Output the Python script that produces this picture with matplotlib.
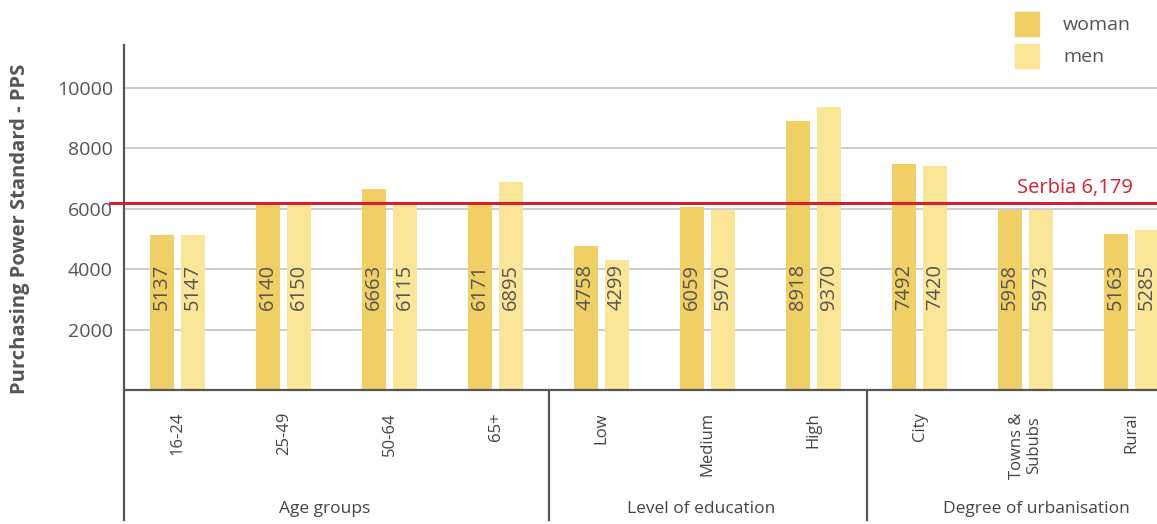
import matplotlib.pyplot as plt
import numpy as np
from matplotlib.patches import Rectangle
from matplotlib.lines import Line2D

plt.rcParams['font.family'] = ['Open Sans', 'DejaVu Sans']

categories = ['16-24', '25-49', '50-64', '65+', 'Low', 'Medium', 'High',
              'City', 'Towns &\nSububs', 'Rural']
woman = [5137, 6140, 6663, 6171, 4758, 6059, 8918, 7492, 5958, 5163]
men = [5147, 6150, 6115, 6895, 4299, 5970, 9370, 7420, 5973, 5285]
groups = ['Age groups', 'Level of education', 'Degree of urbanisation']
group_pos = [1.38, 4.94, 8.1]
serbia = 6179

c_woman = '#f0cf64'
c_men = '#fbe597'
grey = '#555555'
red = '#d42030'

W, H = 1157, 524
fig = plt.figure(figsize=(W / 100, H / 100), dpi=100)
ax = fig.add_axes([124 / W, (H - 390) / H, (W - 124) / W, (390 - 45) / H])

x = np.arange(len(categories))
bw = 0.226
ax.bar(x - 0.15, woman, bw, color=c_woman, zorder=2)
ax.bar(x + 0.143, men, bw, color=c_men, zorder=2)

for i in range(len(categories)):
    ax.text(x[i] - 0.15, 3400, str(woman[i]), rotation=90, ha='center', va='center',
            fontsize=14.5, color=grey, zorder=3)
    ax.text(x[i] + 0.143, 3400, str(men[i]), rotation=90, ha='center', va='center',
            fontsize=14.5, color=grey, zorder=3)

# national average
ax.plot([-0.64, 9.3], [serbia, serbia], color=red, lw=2.2, zorder=4, clip_on=False)
ax.text(9.015, serbia + 180, 'Serbia 6,179', color=red, fontsize=14.5, ha='right', va='bottom')

ax.set_xlim(-0.509, 9.24)
ax.set_ylim(0, 11420)
ax.set_yticks([2000, 4000, 6000, 8000, 10000])
ax.tick_params(axis='y', length=0, labelsize=14, colors=grey, pad=8)
ax.set_xticks([])
ax.grid(axis='y', color='#c8c8c8', lw=1.3, zorder=0)
for s in ['top', 'right']:
    ax.spines[s].set_visible(False)
ax.spines['left'].set_visible(False)
ax.spines['bottom'].set_color(grey)
ax.spines['bottom'].set_linewidth(1.6)

# left axis and group separators extended below the plot
low = -(520 - 390) / 345
ax.add_line(Line2D([-0.509, -0.509], [low, 1.0], transform=ax.get_xaxis_transform(),
                   color=grey, lw=1.6, clip_on=False))
for sx in [3.5, 6.5]:
    ax.add_line(Line2D([sx, sx], [low, 0], transform=ax.get_xaxis_transform(),
                       color=grey, lw=1.6, clip_on=False))

for i, c in enumerate(categories):
    ax.text(x[i], -0.064, c, transform=ax.get_xaxis_transform(), rotation=90,
            ha='center', va='top', fontsize=12, color='#444444', linespacing=1.15)
for g, gp in zip(groups, group_pos):
    ax.text(gp, -0.345, g, transform=ax.get_xaxis_transform(), ha='center', va='center',
            fontsize=12.5, color='#444444')

fig.text(20 / W, 1 - 229 / H, 'Purchasing Power Standard - PPS', rotation=90,
         ha='center', va='center', fontsize=14.5, fontweight='bold', color=grey)

# legend
fig.add_artist(Rectangle((1015 / W, 1 - 36 / H), 24 / W, 24 / H, color=c_woman,
                         transform=fig.transFigure))
fig.add_artist(Rectangle((1015 / W, 1 - 68 / H), 24 / W, 24 / H, color=c_men,
                         transform=fig.transFigure))
fig.text(1063 / W, 1 - 25 / H, 'woman', fontsize=14, color=grey, va='center')
fig.text(1063 / W, 1 - 57 / H, 'men', fontsize=14, color=grey, va='center')

fig.savefig('out.png', dpi=100)
